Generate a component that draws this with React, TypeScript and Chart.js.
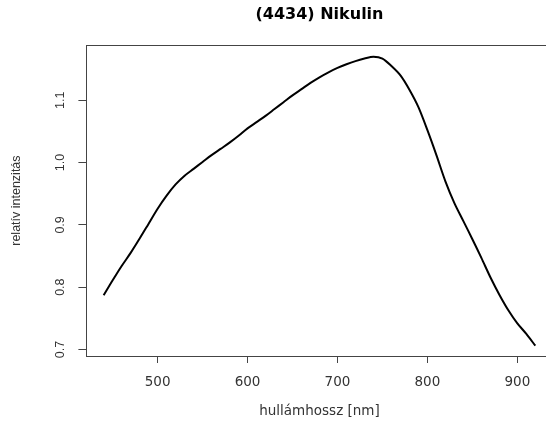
import React, { useEffect, useRef } from "react";
import { Chart, registerables } from "chart.js";

Chart.register(...registerables);

const wavelengths = [
  440, 450, 460, 470, 480, 490, 500, 510, 520, 530, 540, 550, 560, 570, 580, 590,
  600, 610, 620, 630, 640, 650, 660, 670, 680, 690, 700, 710, 720, 730, 740, 750,
  760, 770, 780, 790, 800, 810, 820, 830, 840, 850, 860, 870, 880, 890, 900, 910, 920,
];
const intensity = [
  0.787, 0.811, 0.834, 0.855, 0.878, 0.902, 0.926, 0.947, 0.965, 0.979, 0.99, 1.001,
  1.012, 1.022, 1.032, 1.043, 1.055, 1.065, 1.075, 1.086, 1.097, 1.108, 1.118, 1.128,
  1.137, 1.145, 1.152, 1.158, 1.163, 1.167, 1.17, 1.167, 1.155, 1.14, 1.117, 1.089,
  1.052, 1.012, 0.97, 0.935, 0.906, 0.877, 0.847, 0.816, 0.788, 0.763, 0.742, 0.725,
  0.706,
];
const xTicks = [500, 600, 700, 800, 900];
const yTicks = [0.7, 0.8, 0.9, 1.0, 1.1];
const xRange = [420.8, 939.2];
const yRange = [0.6895, 1.1885];
const titleText = "(4434) Nikulin";
const xTitle = "hullámhossz [nm]";
const yTitle = "relatív intenzitás";

const boxPlugin = {
  id: "boxPlugin",
  afterDraw(chart: any) {
    const { ctx, chartArea } = chart;
    ctx.save();
    ctx.strokeStyle = "#444";
    ctx.lineWidth = 1;
    ctx.strokeRect(
      Math.round(chartArea.left) + 0.5,
      Math.round(chartArea.top) + 0.5,
      Math.round(chartArea.right - chartArea.left),
      Math.round(chartArea.bottom - chartArea.top)
    );
    ctx.restore();
  },
};

export default function App() {
  const ref = useRef<HTMLCanvasElement | null>(null);
  useEffect(() => {
    if (!ref.current) return;
    const points = wavelengths.map((w, i) => ({ x: w, y: intensity[i] }));
    const chart = new Chart(ref.current, {
      type: "line",
      data: {
        datasets: [
          {
            data: points,
            borderColor: "#000",
            borderWidth: 2,
            pointRadius: 0,
            tension: 0.3,
            fill: false,
          },
        ],
      },
      options: {
        animation: false,
        responsive: false,
        layout: { padding: { left: 0, right: 3.4, top: 0, bottom: 0 } },
        plugins: {
          legend: { display: false },
          tooltip: { enabled: false },
          title: {
            display: true,
            text: titleText,
            fullSize: false,
            color: "#000",
            font: { family: "DejaVu Sans", size: 16, weight: "bold", lineHeight: 1.2 },
            padding: { top: 5, bottom: 21 },
          },
        },
        scales: {
          x: {
            type: "linear",
            min: xRange[0],
            max: xRange[1],
            afterBuildTicks: (s: any) => {
              s.ticks = xTicks.map((v) => ({ value: v }));
            },
            afterFit: (s: any) => {
              s.height = 69;
            },
            grid: {
              display: true,
              drawOnChartArea: false,
              drawTicks: true,
              tickLength: 7,
              color: "#444",
            },
            border: { display: true, color: "#444" },
            ticks: {
              padding: 11,
              color: "#333",
              maxRotation: 0,
              autoSkip: false,
              font: { family: "DejaVu Sans", size: 13.5 },
              callback: (v: any) => String(v),
            },
            title: {
              display: true,
              text: xTitle,
              color: "#333",
              font: { family: "DejaVu Sans", size: 13.5, lineHeight: 1.2 },
              padding: { top: 0, bottom: 5 },
            },
          },
          y: {
            type: "linear",
            min: yRange[0],
            max: yRange[1],
            afterBuildTicks: (s: any) => {
              s.ticks = yTicks.map((v) => ({ value: v }));
            },
            afterFit: (s: any) => {
              s.width = 86.4;
            },
            grid: {
              display: true,
              drawOnChartArea: false,
              drawTicks: true,
              tickLength: 8,
              color: "#444",
            },
            border: { display: true, color: "#444" },
            ticks: {
              padding: 8.7,
              color: "#333",
              minRotation: 90,
              maxRotation: 90,
              crossAlign: "center",
              autoSkip: false,
              font: { family: "Liberation Sans", size: 12.5 },
              callback: (v: any) => Number(v).toFixed(1),
            },
            title: {
              display: true,
              text: yTitle,
              color: "#333",
              font: { family: "Liberation Sans", size: 12.5, lineHeight: 1.2 },
              padding: { top: 9, bottom: 0 },
            },
          },
        },
      },
      plugins: [boxPlugin],
    });
    return () => chart.destroy();
  }, []);
  return (
    <div
      style={{
        position: "absolute",
        left: 0,
        top: 0,
        width: 546,
        height: 425,
        overflow: "hidden",
        background: "#fff",
      }}
    >
      <canvas ref={ref} width={556} height={425} style={{ display: "block" }} />
    </div>
  );
}
